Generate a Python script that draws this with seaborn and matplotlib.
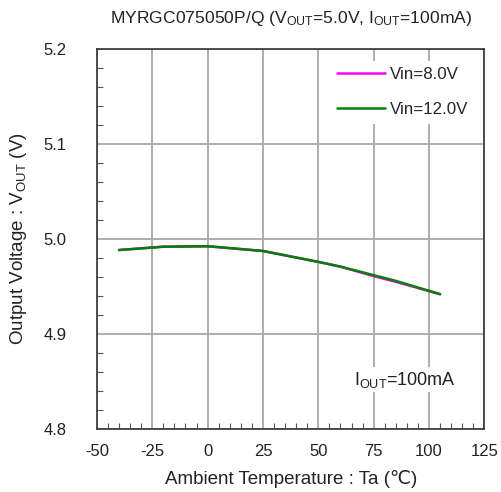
import matplotlib
matplotlib.use("Agg")
import matplotlib.pyplot as plt
from matplotlib.ticker import MultipleLocator
import seaborn as sns
import pandas as pd

temps = [-40, -20, 0, 25, 50, 60, 75, 85, 105]
vin8 = [4.9885, 4.992, 4.9925, 4.9875, 4.976, 4.971, 4.961, 4.955, 4.942]
vin12 = [4.9885, 4.992, 4.9925, 4.9875, 4.976, 4.971, 4.962, 4.956, 4.942]
series = ["Vin=8.0V", "Vin=12.0V"]
colors = ["#ff00ff", "#008000"]

df = pd.DataFrame({
    "Ta": temps * 2,
    "Vout": vin8 + vin12,
    "series": [series[0]] * len(temps) + [series[1]] * len(temps),
})

sns.set_style("white")
plt.rcParams["font.family"] = ["Liberation Sans", "DejaVu Sans"]
plt.rcParams["mathtext.fontset"] = "custom"
plt.rcParams["mathtext.rm"] = "Liberation Sans"
plt.rcParams["mathtext.it"] = "Liberation Sans"
plt.rcParams["axes.unicode_minus"] = False

fig = plt.figure(figsize=(5.02, 4.92), dpi=100)
ax = fig.add_axes([0.193, 0.128, 0.772, 0.772])

sns.lineplot(data=df, x="Ta", y="Vout", hue="series", palette=colors,
             hue_order=series, linewidth=1.8, ax=ax)

ax.set_xlim(-50, 125)
ax.set_ylim(4.8, 5.2)
ax.xaxis.set_major_locator(MultipleLocator(25))
ax.xaxis.set_minor_locator(MultipleLocator(5))
ax.yaxis.set_major_locator(MultipleLocator(0.1))
ax.yaxis.set_minor_locator(MultipleLocator(0.02))
ax.set_yticks(ax.get_yticks())
ax.set_yticklabels([f"{v:.1f}" for v in ax.get_yticks()])
ax.set_ylim(4.8, 5.2)
ax.tick_params(which="both", direction="in", color="#555555", labelsize=12, labelcolor="#222222")
ax.tick_params(axis="x", which="major", length=0, pad=11)
ax.tick_params(axis="y", which="major", length=0, pad=22)
ax.tick_params(which="minor", length=4, width=0.8)
ax.tick_params(axis="x", which="minor", bottom=True)
ax.tick_params(axis="y", which="minor", left=True)
ax.grid(True, which="major", color="#a8a8a8", linewidth=1.3)
for s in ax.spines.values():
    s.set_color("#333333")
    s.set_linewidth(1.2)

ax.set_xlabel("Ambient Temperature : Ta (\u2103)", fontsize=13.5, color="#222222", labelpad=8)
ax.set_ylabel("Output Voltage : V$_{\\mathrm{OUT}}$ (V)", fontsize=13.5, color="#222222", labelpad=10)
ax.set_title("MYRGC075050P/Q (V$_{\\mathrm{OUT}}$=5.0V, I$_{\\mathrm{OUT}}$=100mA)", fontsize=12.6,
             color="#222222", pad=19)

leg = ax.legend(loc="upper right", frameon=True, fontsize=12.2, handlelength=2.8,
                labelspacing=1.15, handletextpad=0.3, bbox_to_anchor=(0.975, 0.97),
                borderpad=0.4, borderaxespad=0.0)
leg.get_frame().set_facecolor("white")
leg.get_frame().set_edgecolor("none")
leg.get_frame().set_alpha(1.0)
ax.text(89, 4.852, "I$_{\\mathrm{OUT}}$=100mA", fontsize=13, ha="center", va="center", color="#222222",
        bbox=dict(facecolor="white", edgecolor="none", pad=2))

fig.savefig("out.png", dpi=100, facecolor="white")
